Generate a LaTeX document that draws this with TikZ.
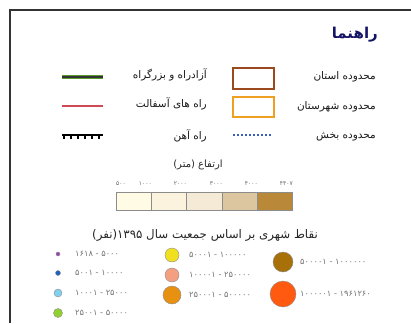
\documentclass[tikz,border=0pt]{standalone}
\usepackage{fontspec}
\newfontfamily\fa[Script=Arabic]{DejaVu Sans}
\TeXXeTstate=1
\definecolor{navy}{HTML}{141466}
\definecolor{brownbox}{HTML}{9A4A1C}
\definecolor{orangebox}{HTML}{F0A020}
\definecolor{roadgreen}{HTML}{5A9A30}
\definecolor{roadred}{HTML}{D04A55}
\definecolor{dotblue}{HTML}{3A5FC0}
\definecolor{elevA}{HTML}{FFFBE4}
\definecolor{elevB}{HTML}{FCF3DE}
\definecolor{elevC}{HTML}{F4EAD6}
\definecolor{elevD}{HTML}{DCC6A0}
\definecolor{elevE}{HTML}{B98838}
\definecolor{cPurple}{HTML}{9B3FB0}
\definecolor{cBlue}{HTML}{2060C0}
\definecolor{cLblue}{HTML}{80D0F0}
\definecolor{cGreen}{HTML}{90D030}
\definecolor{cYellow}{HTML}{F0E020}
\definecolor{cSalmon}{HTML}{F4A080}
\definecolor{cOrange}{HTML}{E89010}
\definecolor{cBrown}{HTML}{A87008}
\definecolor{cRed}{HTML}{FF5A10}
\begin{document}
\begin{tikzpicture}[x=1pt,y=-1pt,
  frameline/.style={draw=black!80, line width=1.5pt},
  lbl/.style={font=\fa\fontsize{10.5}{12}\selectfont, anchor=east, inner sep=0pt, text=black!90},
  num/.style={font=\fa\fontsize{6}{7}\selectfont, inner sep=0pt, text=black!60},
  ptlbl/.style={font=\fa\fontsize{8.3}{9}\selectfont, anchor=west, inner sep=0pt, text=black!55},
  pt/.style={circle, draw=black!45, line width=0.4pt, inner sep=0pt},
  swatch/.style={draw=black!45, line width=0.8pt, minimum width=35.2pt, minimum height=18pt, inner sep=0pt, anchor=north west}
]
\useasboundingbox (0,0) rectangle (411,323);
\draw[frameline] (10,323) -- (10,10) -- (411,10);

% title
\node[font=\fa\bfseries\fontsize{15}{17}\selectfont, text=navy, anchor=east, inner sep=0pt] (title) at (378,35) {\beginR راهنما\endR};

% right column
\node[lbl] (ostan) at (376,77) {\beginR محدوده استان\endR};
\node[lbl] (shahr) at (376,107) {\beginR محدوده شهرستان\endR};
\node[lbl] (bakhsh) at (376,137) {\beginR محدوده بخش\endR};
\draw[brownbox, line width=2pt] (233,68) rectangle (274,89);
\draw[orangebox, line width=2pt] (233,97) rectangle (274,117);
\draw[dotblue, line width=1.6pt, dash pattern=on 1.6pt off 2.4pt] (233,135) -- (271,135);

% middle column
\node[lbl] (azad) at (207,75) {\beginR آزادراه و بزرگراه\endR};
\node[lbl] (asfalt) at (207,104) {\beginR راه های آسفالت\endR};
\node[lbl] (ahan) at (207,136) {\beginR راه آهن\endR};
\draw[roadgreen, line width=4.5pt] (62,77) -- (103,77);
\draw[black!80, line width=1.2pt] (62,77) -- (103,77);
\draw[roadred, line width=2pt] (62,106) -- (103,106);
\draw[black, line width=1.5pt] (62,135) -- (103,135);
\foreach \xx in {64,71,78,85,92,99} \draw[black, line width=1.2pt] (\xx,135) -- (\xx,139);

% elevation
\node[font=\fa\fontsize{10}{12}\selectfont, inner sep=0pt, text=black!85] (elevtitle) at (198,165) {\beginR ارتفاع (متر)\endR};
\node[swatch, fill=elevA] (e1) at (116,192) {};
\node[swatch, fill=elevB] (e2) at (151.2,192) {};
\node[swatch, fill=elevC] (e3) at (186.4,192) {};
\node[swatch, fill=elevD] (e4) at (221.6,192) {};
\node[swatch, fill=elevE] (e5) at (256.8,192) {};
\node[num, anchor=west] (n0) at (116,184) {۵۰۰};
\node[num, anchor=east] (n1) at (152,184) {۱۰۰۰};
\node[num, anchor=east] (n2) at (187,184) {۲۰۰۰};
\node[num, anchor=east] (n3) at (223,184) {۳۰۰۰};
\node[num, anchor=east] (n4) at (258,184) {۴۰۰۰};
\node[num, anchor=east] (n5) at (293,184) {۴۴۰۷};

% population
\node[font=\fa\fontsize{11.8}{14}\selectfont, inner sep=0pt, text=black!85] (poptitle) at (205,235) {\beginR نقاط شهری بر اساس جمعیت سال \beginL۱۳۹۵\endL(نفر)\endR};

\node[pt, fill=cPurple, minimum size=4pt] (p1) at (58,254) {};
\node[pt, fill=cBlue, minimum size=5pt] (p2) at (58,273) {};
\node[pt, fill=cLblue, minimum size=8pt] (p3) at (58,293) {};
\node[pt, fill=cGreen, minimum size=9pt] (p4) at (58,313) {};
\node[ptlbl] (l1) at (75,254) {\beginR\beginL ۱۶۱۸ - ۵۰۰۰\endL\endR};
\node[ptlbl] (l2) at (75,273) {\beginR\beginL ۵۰۰۱ - ۱۰۰۰۰\endL\endR};
\node[ptlbl] (l3) at (75,293) {\beginR\beginL ۱۰۰۰۱ - ۲۵۰۰۰\endL\endR};
\node[ptlbl] (l4) at (75,313) {\beginR\beginL ۲۵۰۰۱ - ۵۰۰۰۰\endL\endR};

\node[pt, fill=cYellow, minimum size=14pt] (p5) at (172,255) {};
\node[pt, fill=cSalmon, minimum size=14pt] (p6) at (172,275) {};
\node[pt, fill=cOrange, minimum size=18pt] (p7) at (172,295) {};
\node[ptlbl] (l5) at (189,255) {\beginR\beginL ۵۰۰۰۱ - ۱۰۰۰۰۰\endL\endR};
\node[ptlbl] (l6) at (189,275) {\beginR\beginL ۱۰۰۰۰۱ - ۲۵۰۰۰۰\endL\endR};
\node[ptlbl] (l7) at (189,295) {\beginR\beginL ۲۵۰۰۰۱ - ۵۰۰۰۰۰\endL\endR};

\node[pt, fill=cBrown, minimum size=20pt] (p8) at (283,262) {};
\node[pt, fill=cRed, minimum size=26pt] (p9) at (283,294) {};
\node[ptlbl] (l8) at (300,262) {\beginR\beginL ۵۰۰۰۰۱ - ۱۰۰۰۰۰۰\endL\endR};
\node[ptlbl] (l9) at (300,294) {\beginR\beginL ۱۰۰۰۰۰۱ - ۱۹۶۱۲۶۰\endL\endR};
\end{tikzpicture}
\end{document}
